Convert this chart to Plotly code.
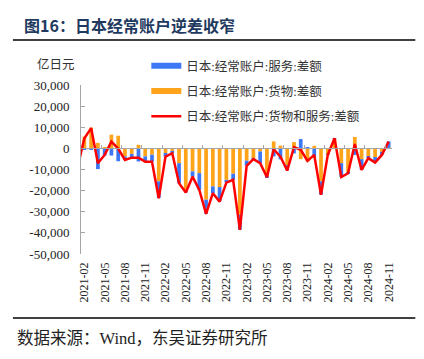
import plotly.graph_objects as go
import pandas as pd

# ---- data (亿日元) ----
months = pd.date_range("2021-01-01", "2024-11-01", freq="MS").strftime("%Y-%m").tolist()
goods = [-6000, 5500, 9800, 2600, 300, 6500, 6000, -3800, -2600, 1700, -3800, -3000,
         -15600, -2200, -1200, -7000, -19600, -10900, -11700, -24300, -18000, -18300, -14900, -12000,
         -31400, -5800, -4600, -1500, -13300, 3300, 1300, -7900, 3000, -5100, -6200, 1200,
         -15600, -3000, 4500, -7000, -11500, 5400, -5100, -3800, -4100, -1600, 300]
services = [-3000, -700, -300, -9800, -3400, -3400, -6100, -1600, -1900, -6200, -2500, -3300,
            -7900, -1700, -1100, -9500, -1300, -2500, -7900, -6600, -3200, -6800, -1300, -2900,
            -7100, -2400, -500, -5500, -300, -3800, -5200, -2500, -2400, 4400, 300, -4300,
            -6300, -100, 300, -6600, -300, -3100, -5100, -800, -2500, -1500, 3000]
total = [-9000, 4800, 9600, -7000, -3100, 3200, -100, -5500, -4400, -4400, -6300, -6300,
         -23600, -3900, -2300, -16500, -20900, -13400, -19700, -31000, -21200, -25200, -16200, -14900,
         -38600, -8300, -5100, -7000, -13600, -400, -3900, -10500, 600, -700, -5900, -3100,
         -22000, -3100, 4800, -13600, -11800, 2100, -10200, -4600, -6700, -3100, 3200]
x_ticks = months[1::3]
y_ticks = [30000, 20000, 10000, 0, -10000, -20000, -30000, -40000, -50000]
y_ticktext = ["30,000", "20,000", "10,000", "0", "-10,000", "-20,000", "-30,000", "-40,000", "-50,000"]
names = ["日本:经常账户:服务:差额", "日本:经常账户:货物:差额", "日本:经常账户:货物和服务:差额"]

BLUE = "#3C78F5"
ORANGE = "#FFA31A"
RED = "#FF0000"
GREY = "#A6A6A6"
SERIF = "Liberation Serif, Noto Sans CJK SC"

fig = go.Figure()
fig.add_bar(x=months, y=goods, marker=dict(color=ORANGE, line_width=0), showlegend=False, hoverinfo="skip")
fig.add_bar(x=months, y=services, marker=dict(color=BLUE, line_width=0), showlegend=False, hoverinfo="skip")
fig.add_scatter(x=months, y=total, mode="lines", line=dict(color=RED, width=2.5),
                name=names[2], legendrank=3, legendgroup="c")
# legend swatches for the bar series
fig.add_scatter(x=[None], y=[None], mode="lines", line=dict(color=BLUE, width=6),
                name=names[0], legendrank=1, legendgroup="a")
fig.add_scatter(x=[None], y=[None], mode="lines", line=dict(color=ORANGE, width=6),
                name=names[1], legendrank=2, legendgroup="b")
# helper trace for the zero-line category axis
fig.add_scatter(x=[None], y=[None], xaxis="x2", showlegend=False, hoverinfo="skip")

ymin, ymax = -50000, 30000
zero_pos = (0 - ymin) / (ymax - ymin)

# page body has an 8px margin, so the figure is 8px smaller and all offsets shift by 8
fig.update_layout(
    width=416, height=351,
    margin=dict(l=73, r=32, t=77, b=105, autoexpand=False),
    paper_bgcolor="white", plot_bgcolor="white",
    barmode="relative", bargap=0.45,
    xaxis=dict(type="category", range=[0.5, len(months) - 0.5], tickmode="array",
               tickvals=x_ticks, ticktext=x_ticks, tickangle=-90, automargin=False,
               ticklabelstandoff=5,
               tickfont=dict(family=SERIF, size=12, color="#222"),
               showline=False, ticks="", showgrid=False, zeroline=False),
    xaxis2=dict(overlaying="x", anchor="free", position=zero_pos, type="linear",
                range=[0.5, len(months) - 0.5],
                tickvals=[i + 0.5 for i in range(3, len(months), 3)],
                ticks="inside", ticklen=3, tickcolor=GREY, showline=True, linecolor=GREY,
                linewidth=1, showticklabels=False, showgrid=False, zeroline=False),
    yaxis=dict(range=[ymin, ymax], tickmode="array", tickvals=y_ticks, ticktext=y_ticktext,
               ticks="inside", ticklen=4, tickcolor=GREY, showline=True, linecolor=GREY,
               showgrid=False, zeroline=False, automargin=False, ticklabelstandoff=8,
               tickfont=dict(family=SERIF, size=13, color="#222")),
    legend=dict(x=0.21, y=1.2, xanchor="left", yanchor="top", bgcolor="rgba(0,0,0,0)",
                font=dict(family=SERIF, size=12.5, color="#333"),
                traceorder="grouped", tracegroupgap=6, itemwidth=30),
    showlegend=True,
)

H = 169.0
W = 310.7
def px_x(px):
    return (px - 81) / W
def px_y(py):
    return (254 - py) / H

fig.add_annotation(text="<b>图16：日本经常账户逆差收窄</b>", xref="paper", yref="paper",
                   x=px_x(22), y=px_y(25), xanchor="left", yanchor="middle", showarrow=False,
                   font=dict(family="Noto Sans CJK SC", size=16, color="#1F3A60"))
fig.add_annotation(text="亿日元", xref="paper", yref="paper",
                   x=px_x(56), y=px_y(64), xanchor="center", yanchor="middle", showarrow=False,
                   font=dict(family=SERIF, size=12.5, color="#333"))
fig.add_annotation(text="数据来源：Wind，东吴证券研究所", xref="paper", yref="paper",
                   x=px_x(15), y=px_y(338), xanchor="left", yanchor="middle", showarrow=False,
                   font=dict(family=SERIF, size=16.5, color="#222"))
fig.add_shape(type="line", xref="paper", yref="paper", x0=px_x(13), x1=px_x(415),
              y0=px_y(40), y1=px_y(40), line=dict(color="black", width=1.5))
fig.add_shape(type="line", xref="paper", yref="paper", x0=px_x(13), x1=px_x(415),
              y0=px_y(318), y1=px_y(318), line=dict(color="black", width=1.5))

fig.write_html("out.html")
